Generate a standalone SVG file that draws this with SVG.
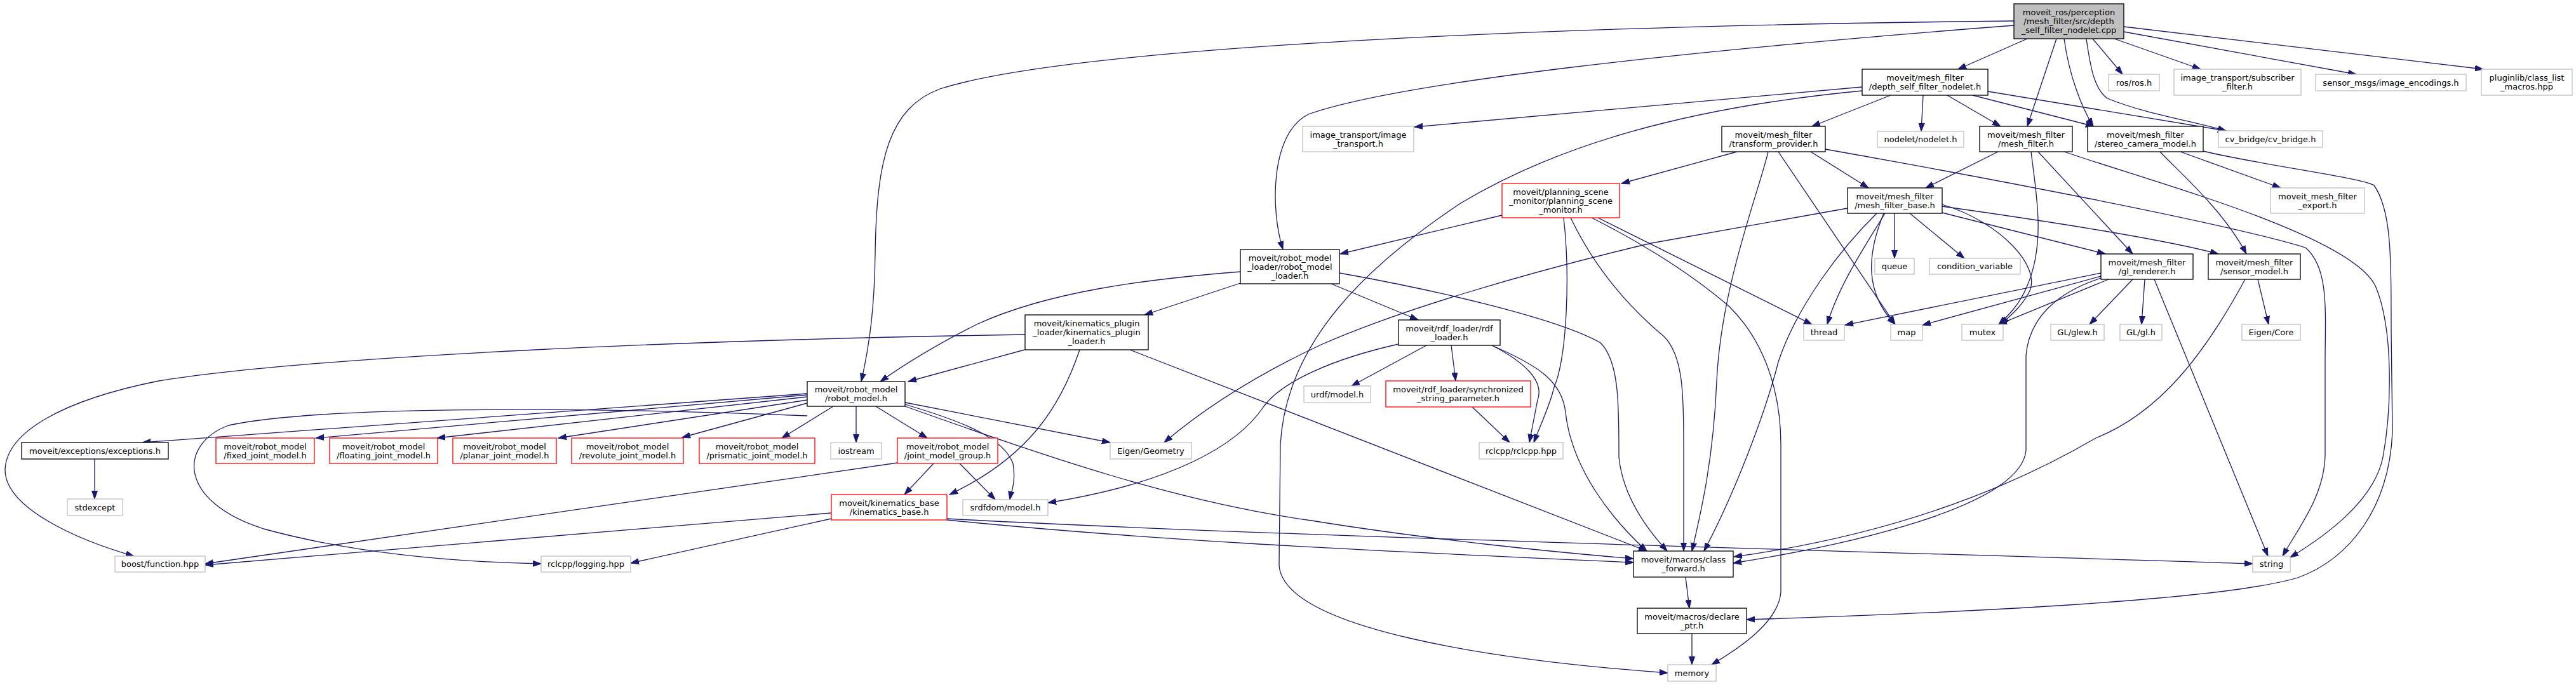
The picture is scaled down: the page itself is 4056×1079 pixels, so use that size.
<svg xmlns="http://www.w3.org/2000/svg" width="4056" height="1079" viewBox="0 0 4056 1079">
<style>
rect{fill:#fff;stroke-width:1.3}
.b{stroke:#000}.g{stroke:#bfbfbf}.r{stroke:#ff0000}
.root{fill:#bfbfbf;stroke:#000}
text{font-family:"DejaVu Sans",sans-serif;font-size:13px;text-anchor:middle;fill:#000}
#edges path{fill:none;stroke:#191970;stroke-width:1.3;marker-end:url(#arr)}
</style>
<defs>
<marker id="arr" markerUnits="userSpaceOnUse" markerWidth="14" markerHeight="10" refX="13" refY="5" orient="auto"><path d="M0,0.5 L13,5 L0,9.5 z" fill="#191970" stroke="#191970" stroke-width="1"/></marker>
</defs>
<rect x="0" y="0" width="4056" height="1079" style="fill:#fff;stroke:none"/>
<g id="edges">
<path d="M3192,61 L3083,109"/>
<path d="M3295,61 L3342,117"/>
<path d="M3329,61 L3465,109"/>
<path d="M3344,50 L3710,117"/>
<path d="M3344,42 L3910,109"/>
<path d="M3238,61 L3192,199"/>
<path d="M3250,61 C3258,120 3278,170 3296,199"/>
<path d="M3285,61 C3292,110 3298,140 3318,155 C3380,180 3450,190 3505,206"/>
<path d="M3171,40 C2650,80 2200,130 2060,180 C2000,210 2000,330 2020,393"/>
<path d="M3171,33 C2500,40 1700,70 1480,140 C1400,170 1380,250 1378,400 C1377,480 1370,540 1356,601"/>
<path d="M2977,150 L2853,199"/>
<path d="M3028,150 L3025,207"/>
<path d="M3066,150 L3150,199"/>
<path d="M3106,150 L3297,199"/>
<path d="M3130,144 L3505,206"/>
<path d="M2932,137 L2227,200"/>
<path d="M2932,143 C2650,170 2450,230 2300,320 C2150,420 2025,540 2016,700 L2014,890 C2020,990 2350,1040 2626,1060"/>
<path d="M2735,239 L2553,289"/>
<path d="M2851,239 L2942,296"/>
<path d="M2800,239 L2984,511"/>
<path d="M2784,239 C2770,300 2710,450 2703,600 C2698,720 2680,800 2664,868"/>
<path d="M2874,235 C3100,275 3500,350 3630,390 C3665,420 3662,480 3661,560 L3661,717 C3660,780 3620,830 3594,876"/>
<path d="M3146,239 L3032,296"/>
<path d="M3198,239 C3205,300 3222,380 3192,450 C3180,480 3162,497 3147,511"/>
<path d="M3209,239 L3358,400"/>
<path d="M3250,239 C3400,290 3700,370 3740,450 C3770,520 3765,650 3752,720 C3738,790 3660,845 3606,878"/>
<path d="M3401,239 C3430,270 3500,330 3537,400"/>
<path d="M3433,239 L3591,296"/>
<path d="M3469,238 C3560,260 3720,280 3738,292 C3765,330 3765,400 3765,520 L3767,680 C3762,800 3700,880 3618,910 C3500,945 3100,965 2750,976"/>
<path d="M2365,339 L2110,400"/>
<path d="M2462,343 C2472,430 2468,560 2447,610 C2440,640 2425,670 2415,697"/>
<path d="M2473,343 C2510,420 2560,480 2620,530 C2650,560 2651,620 2651,700 L2651,868"/>
<path d="M2506,343 C2560,370 2650,420 2723,483 C2790,550 2804,640 2804,700 L2804,933 C2800,980 2740,1020 2695,1047"/>
<path d="M2516,343 L2853,511"/>
<path d="M2909,328 L2600,383 C2400,430 2200,490 2080,543 C1980,590 1900,640 1833,697"/>
<path d="M2983,336 L2983,407"/>
<path d="M3007,336 L3093,407"/>
<path d="M2968,336 C2935,390 2895,450 2877,511"/>
<path d="M2966,336 C2940,400 2935,460 2984,511"/>
<path d="M2955,336 C2900,390 2830,480 2800,570 C2780,650 2730,780 2683,868"/>
<path d="M3058,335 L3315,400"/>
<path d="M3058,325 C3200,345 3400,375 3493,400"/>
<path d="M3058,322 C3150,350 3215,420 3195,460 C3182,485 3162,500 3150,511"/>
<path d="M3308,430 L2905,512"/>
<path d="M3308,435 L3027,512"/>
<path d="M3320,440 L3147,511"/>
<path d="M3358,440 L3290,511"/>
<path d="M3377,440 L3372,511"/>
<path d="M3392,440 L3571,876"/>
<path d="M3308,438 C3240,460 3195,500 3190,560 L3190,710 C3180,800 2900,860 2729,887"/>
<path d="M3555,440 L3572,511"/>
<path d="M3535,440 C3470,560 3400,650 3300,690 C3180,760 3000,840 2730,877"/>
<path d="M1953,428 C1800,440 1650,460 1540,510 C1480,540 1430,570 1386,601"/>
<path d="M1953,446 L1802,496"/>
<path d="M2096,447 L2233,504"/>
<path d="M2109,430 C2250,455 2450,500 2520,540 C2550,570 2549,640 2549,720 C2555,780 2590,830 2625,868"/>
<path d="M1613,551 L1430,601"/>
<path d="M1700,551 C1670,640 1620,720 1495,779"/>
<path d="M1779,551 L2593,868"/>
<path d="M1614,527 C1100,535 500,560 250,600 C100,630 10,680 8,740 C8,800 120,850 211,876"/>
<path d="M1271,620 L224,697"/>
<path d="M1271,622 L497,690"/>
<path d="M1271,625 L688,690"/>
<path d="M1271,630 L879,690"/>
<path d="M1271,635 L1074,689"/>
<path d="M1312,640 L1231,690"/>
<path d="M1271,655 C900,640 500,640 360,670 C280,700 280,790 415,833 C550,870 700,885 852,888"/>
<path d="M1348,640 L1348,697"/>
<path d="M1379,640 L1460,690"/>
<path d="M1425,634 L1748,697"/>
<path d="M1425,637 C1520,665 1580,690 1595,730 C1600,760 1592,775 1590,787"/>
<path d="M1425,640 C1650,720 1850,790 2065,820 C2250,850 2450,870 2572,880"/>
<path d="M1470,730 L1424,779"/>
<path d="M1511,730 L1567,787"/>
<path d="M1413,729 L323,888"/>
<path d="M1309,808 L323,890"/>
<path d="M1309,817 L993,887"/>
<path d="M1491,819 C1800,850 2100,865 2572,886"/>
<path d="M1491,817 C2000,845 3000,870 3547,888"/>
<path d="M149,723 L149,786"/>
<path d="M2246,544 L2128,608"/>
<path d="M2285,544 L2292,600"/>
<path d="M2202,542 C2100,565 2020,600 1990,640 C1950,700 1850,760 1650,792"/>
<path d="M2349,544 C2400,570 2432,600 2421,630 L2408,697"/>
<path d="M2351,545 C2420,575 2460,600 2465,650 C2475,740 2540,820 2593,868"/>
<path d="M2318,641 L2377,697"/>
<path d="M2654,909 L2660,958"/>
<path d="M2664,998 L2664,1047"/>
</g>
<g id="n_root"><rect class="root" x="3171" y="6" width="173" height="55"/><text x="3257.5" y="24">moveit_ros/perception</text><text x="3257.5" y="38">/mesh_filter/src/depth</text><text x="3257.5" y="52">_self_filter_nodelet.cpp</text></g>
<g id="n_dsfn"><rect class="b" x="2932" y="109" width="198" height="41"/><text x="3031" y="126.5">moveit/mesh_filter</text><text x="3031" y="140.5">/depth_self_filter_nodelet.h</text></g>
<g id="n_ros"><rect class="g" x="3320" y="117" width="80" height="26"/><text x="3360" y="134.5">ros/ros.h</text></g>
<g id="n_subf"><rect class="g" x="3423" y="109" width="200" height="41"/><text x="3523" y="126.5">image_transport/subscriber</text><text x="3523" y="140.5">_filter.h</text></g>
<g id="n_enc"><rect class="g" x="3646" y="117" width="237" height="26"/><text x="3764.5" y="134.5">sensor_msgs/image_encodings.h</text></g>
<g id="n_plug"><rect class="g" x="3907" y="109" width="143" height="41"/><text x="3978.5" y="126.5">pluginlib/class_list</text><text x="3978.5" y="140.5">_macros.hpp</text></g>
<g id="n_itr"><rect class="g" x="2051" y="199" width="175" height="40"/><text x="2138.5" y="216.5">image_transport/image</text><text x="2138.5" y="230.5">_transport.h</text></g>
<g id="n_tp"><rect class="b" x="2711" y="199" width="163" height="40"/><text x="2792.5" y="216.5">moveit/mesh_filter</text><text x="2792.5" y="230.5">/transform_provider.h</text></g>
<g id="n_nodelet"><rect class="g" x="2956" y="207" width="136" height="25"/><text x="3024" y="224">nodelet/nodelet.h</text></g>
<g id="n_mf"><rect class="b" x="3117" y="199" width="146" height="40"/><text x="3190" y="216.5">moveit/mesh_filter</text><text x="3190" y="230.5">/mesh_filter.h</text></g>
<g id="n_scm"><rect class="b" x="3287" y="199" width="182" height="40"/><text x="3378" y="216.5">moveit/mesh_filter</text><text x="3378" y="230.5">/stereo_camera_model.h</text></g>
<g id="n_cvb"><rect class="g" x="3493" y="206" width="164" height="26"/><text x="3575" y="223.5">cv_bridge/cv_bridge.h</text></g>
<g id="n_psm"><rect class="r" x="2365" y="289" width="185" height="54"/><text x="2457.5" y="307">moveit/planning_scene</text><text x="2457.5" y="321">_monitor/planning_scene</text><text x="2457.5" y="335">_monitor.h</text></g>
<g id="n_mfb"><rect class="b" x="2909" y="296" width="149" height="40"/><text x="2983.5" y="313.5">moveit/mesh_filter</text><text x="2983.5" y="327.5">/mesh_filter_base.h</text></g>
<g id="n_export"><rect class="g" x="3575" y="296" width="148" height="40"/><text x="3649" y="313.5">moveit_mesh_filter</text><text x="3649" y="327.5">_export.h</text></g>
<g id="n_rml"><rect class="b" x="1953" y="393" width="156" height="54"/><text x="2031" y="411">moveit/robot_model</text><text x="2031" y="425">_loader/robot_model</text><text x="2031" y="439">_loader.h</text></g>
<g id="n_queue"><rect class="g" x="2952" y="407" width="62" height="25"/><text x="2983" y="424">queue</text></g>
<g id="n_condvar"><rect class="g" x="3038" y="407" width="143" height="25"/><text x="3109.5" y="424">condition_variable</text></g>
<g id="n_glr"><rect class="b" x="3308" y="400" width="145" height="40"/><text x="3380.5" y="417.5">moveit/mesh_filter</text><text x="3380.5" y="431.5">/gl_renderer.h</text></g>
<g id="n_sensor"><rect class="b" x="3477" y="400" width="145" height="40"/><text x="3549.5" y="417.5">moveit/mesh_filter</text><text x="3549.5" y="431.5">/sensor_model.h</text></g>
<g id="n_kpl"><rect class="b" x="1614" y="496" width="194" height="55"/><text x="1711" y="514">moveit/kinematics_plugin</text><text x="1711" y="528">_loader/kinematics_plugin</text><text x="1711" y="542">_loader.h</text></g>
<g id="n_rdf"><rect class="b" x="2202" y="504" width="160" height="40"/><text x="2282" y="521.5">moveit/rdf_loader/rdf</text><text x="2282" y="535.5">_loader.h</text></g>
<g id="n_thread"><rect class="g" x="2840" y="511" width="64" height="25"/><text x="2872" y="528">thread</text></g>
<g id="n_map"><rect class="g" x="2977" y="511" width="50" height="25"/><text x="3002" y="528">map</text></g>
<g id="n_mutex"><rect class="g" x="3089" y="511" width="65" height="25"/><text x="3121.5" y="528">mutex</text></g>
<g id="n_glew"><rect class="g" x="3229" y="511" width="84" height="25"/><text x="3271" y="528">GL/glew.h</text></g>
<g id="n_gl"><rect class="g" x="3338" y="511" width="66" height="25"/><text x="3371" y="528">GL/gl.h</text></g>
<g id="n_eigencore"><rect class="g" x="3530" y="511" width="92" height="25"/><text x="3576" y="528">Eigen/Core</text></g>
<g id="n_rm"><rect class="b" x="1271" y="601" width="154" height="39"/><text x="1348" y="618">moveit/robot_model</text><text x="1348" y="632">/robot_model.h</text></g>
<g id="n_urdf"><rect class="g" x="2053" y="608" width="105" height="26"/><text x="2105.5" y="625.5">urdf/model.h</text></g>
<g id="n_ssp"><rect class="r" x="2182" y="600" width="228" height="41"/><text x="2296" y="617.5">moveit/rdf_loader/synchronized</text><text x="2296" y="631.5">_string_parameter.h</text></g>
<g id="n_exc"><rect class="b" x="34" y="697" width="231" height="26"/><text x="149.5" y="714.5">moveit/exceptions/exceptions.h</text></g>
<g id="n_fixed"><rect class="r" x="340" y="690" width="155" height="40"/><text x="417.5" y="707.5">moveit/robot_model</text><text x="417.5" y="721.5">/fixed_joint_model.h</text></g>
<g id="n_floating"><rect class="r" x="519" y="690" width="170" height="40"/><text x="604" y="707.5">moveit/robot_model</text><text x="604" y="721.5">/floating_joint_model.h</text></g>
<g id="n_planar"><rect class="r" x="713" y="690" width="163" height="40"/><text x="794.5" y="707.5">moveit/robot_model</text><text x="794.5" y="721.5">/planar_joint_model.h</text></g>
<g id="n_revolute"><rect class="r" x="900" y="690" width="176" height="40"/><text x="988" y="707.5">moveit/robot_model</text><text x="988" y="721.5">/revolute_joint_model.h</text></g>
<g id="n_prismatic"><rect class="r" x="1101" y="690" width="182" height="40"/><text x="1192" y="707.5">moveit/robot_model</text><text x="1192" y="721.5">/prismatic_joint_model.h</text></g>
<g id="n_iostream"><rect class="g" x="1308" y="697" width="80" height="26"/><text x="1348" y="714.5">iostream</text></g>
<g id="n_jmg"><rect class="r" x="1413" y="690" width="158" height="40"/><text x="1492" y="707.5">moveit/robot_model</text><text x="1492" y="721.5">/joint_model_group.h</text></g>
<g id="n_eigengeo"><rect class="g" x="1748" y="697" width="128" height="26"/><text x="1812" y="714.5">Eigen/Geometry</text></g>
<g id="n_rclcpp"><rect class="g" x="2329" y="697" width="132" height="26"/><text x="2395" y="714.5">rclcpp/rclcpp.hpp</text></g>
<g id="n_stdexcept"><rect class="g" x="106" y="786" width="87" height="26"/><text x="149.5" y="803.5">stdexcept</text></g>
<g id="n_kb"><rect class="r" x="1309" y="779" width="182" height="40"/><text x="1400" y="796.5">moveit/kinematics_base</text><text x="1400" y="810.5">/kinematics_base.h</text></g>
<g id="n_srdf"><rect class="g" x="1516" y="787" width="134" height="25"/><text x="1583" y="804">srdfdom/model.h</text></g>
<g id="n_boost"><rect class="g" x="181" y="876" width="142" height="25"/><text x="252" y="893">boost/function.hpp</text></g>
<g id="n_logging"><rect class="g" x="852" y="876" width="141" height="25"/><text x="922.5" y="893">rclcpp/logging.hpp</text></g>
<g id="n_cf"><rect class="b" x="2572" y="868" width="157" height="41"/><text x="2650.5" y="885.5">moveit/macros/class</text><text x="2650.5" y="899.5">_forward.h</text></g>
<g id="n_string"><rect class="g" x="3547" y="876" width="59" height="25"/><text x="3576.5" y="893">string</text></g>
<g id="n_dp"><rect class="b" x="2578" y="958" width="172" height="40"/><text x="2664" y="975.5">moveit/macros/declare</text><text x="2664" y="989.5">_ptr.h</text></g>
<g id="n_memory"><rect class="g" x="2626" y="1047" width="76" height="26"/><text x="2664" y="1064.5">memory</text></g>
</svg>
